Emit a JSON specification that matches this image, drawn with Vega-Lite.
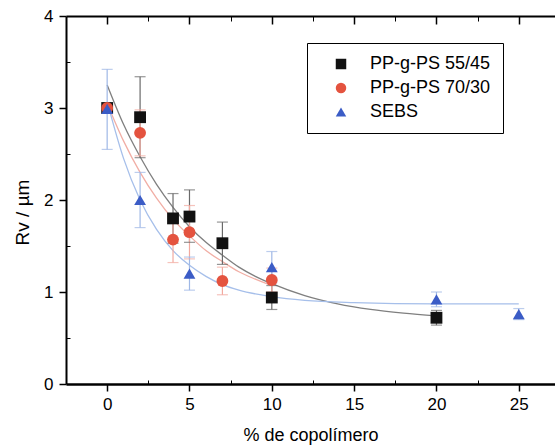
{
  "$schema": "https://vega.github.io/schema/vega-lite/v6.json",
  "width": 489,
  "height": 368,
  "autosize": {"type": "none"},
  "padding": {"left": 66, "top": 16, "right": 0, "bottom": 64},
  "background": "white",
  "config": {
    "view": {"stroke": null},
    "font": "Liberation Sans",
    "axis": {"domainColor": "black", "tickColor": "black", "labelColor": "black", "titleColor": "black", "grid": false, "labelFont": "Liberation Sans", "titleFont": "Liberation Sans"},
    "legend": {"labelFont": "Liberation Sans"}
  },
  "datasets": {
    "pts": [
      {"series": "PP-g-PS 55/45", "x": 0, "y": 3.0, "lo": null, "hi": null},
      {"series": "PP-g-PS 55/45", "x": 2, "y": 2.9, "lo": 2.46, "hi": 3.34},
      {"series": "PP-g-PS 55/45", "x": 4, "y": 1.8, "lo": 1.53, "hi": 2.07},
      {"series": "PP-g-PS 55/45", "x": 5, "y": 1.82, "lo": 1.54, "hi": 2.11},
      {"series": "PP-g-PS 55/45", "x": 7, "y": 1.53, "lo": 1.3, "hi": 1.76},
      {"series": "PP-g-PS 55/45", "x": 10, "y": 0.94, "lo": 0.81, "hi": 1.07},
      {"series": "PP-g-PS 55/45", "x": 20, "y": 0.72, "lo": 0.64, "hi": 0.8},
      {"series": "PP-g-PS 70/30", "x": 0, "y": 3.0, "lo": null, "hi": null},
      {"series": "PP-g-PS 70/30", "x": 2, "y": 2.73, "lo": 2.48, "hi": 2.98},
      {"series": "PP-g-PS 70/30", "x": 4, "y": 1.57, "lo": 1.32, "hi": 1.82},
      {"series": "PP-g-PS 70/30", "x": 5, "y": 1.65, "lo": 1.36, "hi": 1.94},
      {"series": "PP-g-PS 70/30", "x": 7, "y": 1.12, "lo": 0.97, "hi": 1.27},
      {"series": "PP-g-PS 70/30", "x": 10, "y": 1.13, "lo": 1.0, "hi": 1.26},
      {"series": "SEBS", "x": 0, "y": 2.99, "lo": 2.55, "hi": 3.42},
      {"series": "SEBS", "x": 2, "y": 2.0, "lo": 1.7, "hi": 2.3},
      {"series": "SEBS", "x": 5, "y": 1.2, "lo": 1.02, "hi": 1.38},
      {"series": "SEBS", "x": 10, "y": 1.27, "lo": 1.1, "hi": 1.44},
      {"series": "SEBS", "x": 20, "y": 0.92, "lo": 0.84, "hi": 1.0},
      {"series": "SEBS", "x": 25, "y": 0.76, "lo": 0.7, "hi": 0.82}
    ],
    "curves": [
      {"series": "PP-g-PS 55/45", "x": 0, "y": 3.25},
      {"series": "PP-g-PS 55/45", "x": 1, "y": 2.82},
      {"series": "PP-g-PS 55/45", "x": 2, "y": 2.47},
      {"series": "PP-g-PS 55/45", "x": 3, "y": 2.17},
      {"series": "PP-g-PS 55/45", "x": 4, "y": 1.92},
      {"series": "PP-g-PS 55/45", "x": 5, "y": 1.71},
      {"series": "PP-g-PS 55/45", "x": 6, "y": 1.54},
      {"series": "PP-g-PS 55/45", "x": 7, "y": 1.4},
      {"series": "PP-g-PS 55/45", "x": 8, "y": 1.27},
      {"series": "PP-g-PS 55/45", "x": 9, "y": 1.17},
      {"series": "PP-g-PS 55/45", "x": 10, "y": 1.09},
      {"series": "PP-g-PS 55/45", "x": 12, "y": 0.96},
      {"series": "PP-g-PS 55/45", "x": 14, "y": 0.87},
      {"series": "PP-g-PS 55/45", "x": 16, "y": 0.81},
      {"series": "PP-g-PS 55/45", "x": 18, "y": 0.77},
      {"series": "PP-g-PS 55/45", "x": 20, "y": 0.74},
      {"series": "PP-g-PS 70/30", "x": 0, "y": 3.05},
      {"series": "PP-g-PS 70/30", "x": 1, "y": 2.64},
      {"series": "PP-g-PS 70/30", "x": 2, "y": 2.3},
      {"series": "PP-g-PS 70/30", "x": 3, "y": 2.02},
      {"series": "PP-g-PS 70/30", "x": 4, "y": 1.79},
      {"series": "PP-g-PS 70/30", "x": 5, "y": 1.61},
      {"series": "PP-g-PS 70/30", "x": 6, "y": 1.45},
      {"series": "PP-g-PS 70/30", "x": 7, "y": 1.33},
      {"series": "PP-g-PS 70/30", "x": 8, "y": 1.22},
      {"series": "PP-g-PS 70/30", "x": 9, "y": 1.14},
      {"series": "PP-g-PS 70/30", "x": 10, "y": 1.07},
      {"series": "SEBS", "x": 0, "y": 3.07},
      {"series": "SEBS", "x": 1, "y": 2.45},
      {"series": "SEBS", "x": 2, "y": 2.0},
      {"series": "SEBS", "x": 3, "y": 1.68},
      {"series": "SEBS", "x": 4, "y": 1.45},
      {"series": "SEBS", "x": 5, "y": 1.29},
      {"series": "SEBS", "x": 6, "y": 1.17},
      {"series": "SEBS", "x": 7, "y": 1.08},
      {"series": "SEBS", "x": 8, "y": 1.02},
      {"series": "SEBS", "x": 10, "y": 0.95},
      {"series": "SEBS", "x": 12, "y": 0.91},
      {"series": "SEBS", "x": 15, "y": 0.885},
      {"series": "SEBS", "x": 20, "y": 0.87},
      {"series": "SEBS", "x": 25, "y": 0.87}
    ]
  },
  "resolve": {"axis": {"x": "independent", "y": "independent"}, "scale": {"color": "independent", "shape": "independent"}, "legend": {"color": "independent", "shape": "independent"}},
  "layer": [
    {
      "data": {"name": "curves"},
      "transform": [{"filter": "datum.series == 'PP-g-PS 55/45'"}],
      "mark": {"type": "line", "interpolate": "monotone", "strokeWidth": 1.3, "color": "#7f7f7f"},
      "encoding": {
        "x": {"field": "x", "type": "quantitative", "scale": {"domain": [-2.5, 27.2], "nice": false, "zero": false},
              "axis": {"orient": "top", "values": [0, 5, 10, 15, 20, 25], "labels": false, "title": null, "tickSize": -8, "tickWidth": 1.5, "domainWidth": 2}},
        "y": {"field": "y", "type": "quantitative", "scale": {"domain": [0, 4], "nice": false},
              "axis": {"orient": "left", "values": [0.5, 1.5, 2.5, 3.5], "labels": false, "title": null, "tickSize": -4, "domain": false}}
      }
    },
    {
      "data": {"name": "curves"},
      "transform": [{"filter": "datum.series == 'PP-g-PS 70/30'"}],
      "mark": {"type": "line", "interpolate": "monotone", "strokeWidth": 1.3, "color": "#f1aea5"},
      "encoding": {
        "x": {"field": "x", "type": "quantitative",
              "axis": {"orient": "top", "values": [2.5, 7.5, 12.5, 17.5, 22.5], "labels": false, "title": null, "tickSize": -5, "domain": false}},
        "y": {"field": "y", "type": "quantitative", "axis": null}
      }
    },
    {
      "data": {"name": "curves"},
      "transform": [{"filter": "datum.series == 'SEBS'"}],
      "mark": {"type": "line", "interpolate": "monotone", "strokeWidth": 1.3, "color": "#a6bfea"},
      "encoding": {
        "x": {"field": "x", "type": "quantitative",
              "axis": {"orient": "bottom", "values": [2.5, 7.5, 12.5, 17.5, 22.5], "labels": false, "title": null, "tickSize": -4, "domain": false}},
        "y": {"field": "y", "type": "quantitative", "axis": null}
      }
    },
    {
      "data": {"name": "pts"},
      "transform": [{"filter": "datum.lo != null"}],
      "mark": {"type": "rule", "strokeWidth": 1.2},
      "encoding": {
        "x": {"field": "x", "type": "quantitative", "axis": null},
        "y": {"field": "lo", "type": "quantitative", "axis": null},
        "y2": {"field": "hi"},
        "color": {"field": "series", "type": "nominal", "legend": null,
                  "scale": {"domain": ["PP-g-PS 55/45", "PP-g-PS 70/30", "SEBS"], "range": ["#6a6a6a", "#f2a99f", "#9fb8e6"]}}
      }
    },
    {
      "data": {"name": "pts"},
      "transform": [{"filter": "datum.lo != null"}],
      "mark": {"type": "tick", "orient": "horizontal", "size": 11, "thickness": 1.2},
      "encoding": {
        "x": {"field": "x", "type": "quantitative", "axis": null},
        "y": {"field": "hi", "type": "quantitative", "axis": null},
        "color": {"field": "series", "type": "nominal", "legend": null,
                  "scale": {"domain": ["PP-g-PS 55/45", "PP-g-PS 70/30", "SEBS"], "range": ["#6a6a6a", "#f2a99f", "#9fb8e6"]}}
      }
    },
    {
      "data": {"name": "pts"},
      "transform": [{"filter": "datum.lo != null"}],
      "mark": {"type": "tick", "orient": "horizontal", "size": 11, "thickness": 1.2},
      "encoding": {
        "x": {"field": "x", "type": "quantitative", "axis": null},
        "y": {"field": "lo", "type": "quantitative", "axis": null},
        "color": {"field": "series", "type": "nominal", "legend": null,
                  "scale": {"domain": ["PP-g-PS 55/45", "PP-g-PS 70/30", "SEBS"], "range": ["#6a6a6a", "#f2a99f", "#9fb8e6"]}}
      }
    },
    {
      "data": {"name": "pts"},
      "mark": {"type": "point", "filled": true, "opacity": 1, "size": 140},
      "encoding": {
        "x": {"field": "x", "type": "quantitative",
              "axis": {"orient": "bottom", "values": [0, 5, 10, 15, 20, 25], "title": "% de copolímero", "titleFontSize": 18, "titleFontWeight": "normal", "titlePadding": 14, "labelFontSize": 17, "labelPadding": 5, "tickSize": 7, "tickWidth": 1.5, "domainWidth": 2.5}},
        "y": {"field": "y", "type": "quantitative",
              "axis": {"orient": "left", "values": [0, 1, 2, 3, 4], "title": "Rv / µm", "titleFontSize": 19, "titleFontWeight": "normal", "titlePadding": 11, "titleY": 196, "labelFontSize": 17, "labelPadding": 6, "tickSize": 7, "tickWidth": 1.5, "domainWidth": 2}},
        "color": {"field": "series", "type": "nominal", "title": null,
                  "scale": {"domain": ["PP-g-PS 55/45", "PP-g-PS 70/30", "SEBS"], "range": ["#111111", "#e4533f", "#3b5cc6"]},
                  "legend": {"orient": "none", "legendX": 241, "legendY": 27, "padding": 12, "symbolOffset": 13, "labelOffset": 20, "labelFontSize": 18, "rowPadding": 6, "symbolSize": 110, "strokeColor": "black", "fillColor": "white", "labelColor": "black"}},
        "shape": {"field": "series", "type": "nominal", "title": null,
                  "scale": {"domain": ["PP-g-PS 55/45", "PP-g-PS 70/30", "SEBS"], "range": ["square", "circle", "triangle-up"]}}
      }
    }
  ]
}
